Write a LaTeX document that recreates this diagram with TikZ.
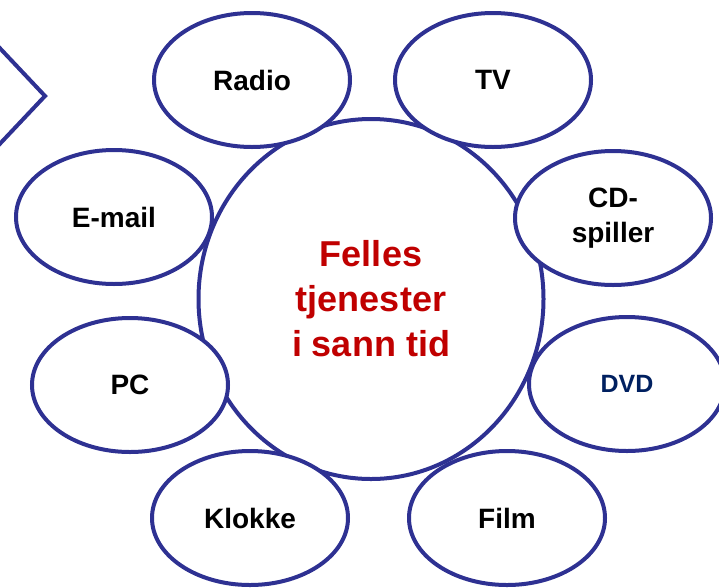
\documentclass[tikz,border=0pt]{standalone}
\usepackage{fontspec}
\setmainfont{Liberation Sans}
\usetikzlibrary{shapes.geometric, positioning}
\definecolor{ringblue}{RGB}{46,49,146}
\definecolor{hubred}{RGB}{192,0,0}
\definecolor{dvdblue}{RGB}{0,32,96}
\tikzstyle{centre} = [ellipse, minimum width=345pt, minimum height=360pt, text centered, draw=ringblue, line width=4pt, fill=white, text=hubred, font=\fontsize{36}{45}\selectfont\bfseries]
\tikzstyle{service} = [ellipse, minimum width=196pt, minimum height=134pt, text centered, draw=ringblue, line width=4pt, fill=white, font=\fontsize{28}{35}\selectfont\bfseries]
\tikzset{
	chevron/.style={draw=ringblue, line width=4pt}
}

\begin{document}
\begin{tikzpicture}[x=1pt, y=-1pt]
		\useasboundingbox (0,0) rectangle (719,587);
		\clip (0,0) rectangle (719,587);
		
		% Arrow tip cut off at the left edge
		\coordinate (chevA) at (-5,43);
		\coordinate (chevB) at (45,96);
		\coordinate (chevC) at (-5,149);
		\draw [chevron] (chevA) -- (chevB) -- (chevC);
		
		% Centre node (drawn first, the services lie on top of it)
		\node (hub) [centre] at (371,299) {\parbox{200pt}{\centering Felles \\ tjenester \\ i sann tid}};
		
		% Services round the centre
		\node (radio) [service] at (252,80) {Radio};
		\node (tv) [service] at (493,80) {TV};
		\node (email) [service] at (114,217) {E-mail};
		\node (cd) [service] at (613,218) {\parbox{120pt}{\centering CD-\\spiller}};
		\node (pc) [service] at (130,385) {PC};
		\node (dvd) [service, text=dvdblue, font=\fontsize{25}{30}\selectfont\bfseries] at (627,384) {DVD};
		\node (klokke) [service] at (250,518) {Klokke};
		\node (film) [service] at (507,518) {Film};
		
	\end{tikzpicture}
\end{document}
